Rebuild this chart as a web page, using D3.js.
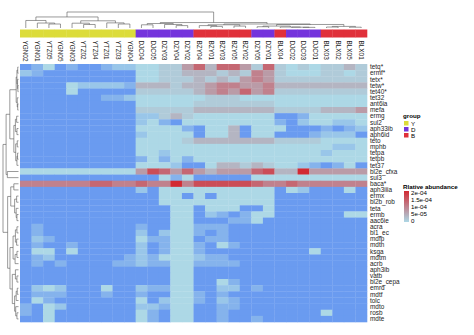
<!DOCTYPE html>
<html><head><meta charset="utf-8">
<script src="https://cdn.jsdelivr.net/npm/d3@7"></script>
<style>body{margin:0;background:#fff}svg{display:block}text{font-family:"Liberation Sans",Arial,sans-serif}</style>
</head><body><svg id="c" width="474" height="335"></svg>
<script>
const samples = ["YGN02","YGN01","YTZ05","YGN05","YGN03","YTZ02","YTZ04","YTZ01","YTZ03","YGN04",
  "DJC04","DJC05","DZY03","DZY04","DZY02","BZY04","BZY01","BZY03","BZY05","BZY02",
  "DZY05","DZY01","BLX04","DJC02","DJC03","DJC01","BLX03","BLX02","BLX05","BLX01"];
const sampleGroups = ["Y","Y","Y","Y","Y","Y","Y","Y","Y","Y","D","D","D","D","D","B","B","B","B","B",
  "D","D","B","D","D","D","B","B","B","B"];
const groupLevels = ["Y","D","B"];
const groupColors = ["#DCDC3A","#7434DC","#E0303A"];
const genes = ["tetq*","ermf*","tetx*","tetw*","tet40*","tet32","ant6ia","mefa","ermg","sul2","aph33ib","aph6id",
  "teto","mphb","tetpa","tetpb","tet37","bl2e_cfxa","sul3","baca*","aph3iiia","ermx","bl2b_rob","teta","ermb",
  "aac6ie","acra","bl1_ec","mdfp","mdtn","ksga","mdtm","acrb","aph3ib","vatb","bl2e_cepa","emrd","mdtf","tolc",
  "mdto","rosb","mdte"];
// read levels of each cell (one character per sample)
const levelValues = {A:-5e-5, b:-3e-5, c:-1.5e-5, "0":0, "1":1.5e-5, "2":4e-5, "3":7e-5, "4":1e-4, "5":1.3e-4, "6":1.6e-4, "7":2e-4};
const abundanceRows = [
  "Ab0AbAAbcc"+"00113"+"52553"+"15"+"1"+"010"+"1121",
  "cbAAAAAAAA"+"00112"+"22121"+"43"+"1"+"000"+"1101",
  "AAAAAAAAAA"+"00111"+"21213"+"43"+"1"+"111"+"1111",
  "AAAA0ccccb"+"22212"+"23443"+"34"+"2"+"222"+"2222",
  "AAAA0AAAAA"+"11111"+"23435"+"34"+"1"+"111"+"1111",
  "AAAAAAAbbc"+"00000"+"01110"+"00"+"0"+"000"+"0000",
  "AAAAAAAAAA"+"00000"+"11111"+"11"+"0"+"000"+"0000",
  "AAAAAAAAAA"+"11111"+"22222"+"22"+"1"+"111"+"2223",
  "AAAAAAAAAA"+"cc121"+"00000"+"00"+"A"+"Ab0"+"0000",
  "AAAAAAAAAA"+"c0bA0"+"00000"+"00"+"b"+"Ac0"+"0cc0",
  "AAAAAAAAAA"+"0000b"+"A002A"+"00"+"0"+"AAA"+"bAbc",
  "AAAAAAAAAA"+"c0000"+"A002A"+"00"+"A"+"AAb"+"cccA",
  "AAAAAAAAAA"+"00001"+"22222"+"22"+"1"+"111"+"0000",
  "AAAAAAAAAA"+"00000"+"00000"+"00"+"0"+"000"+"0cc0",
  "AAAAAAAAAA"+"00c00"+"00000"+"00"+"0"+"000"+"c000",
  "AAAAAAAAAA"+"b0b0b"+"00000"+"00"+"0"+"000"+"0000",
  "AAAAAAAAAA"+"000cA"+"A0221"+"21"+"0"+"0cb"+"Ab0A",
  "0000000000"+"36535"+"32333"+"56"+"2"+"273"+"3333",
  "AAAAAAAAAA"+"AA0b0"+"AAAAA"+"00"+"0"+"000"+"0000",
  "4444445544"+"54474"+"66666"+"54"+"4"+"544"+"4444",
  "AAAAAAAAAA"+"cA000"+"00000"+"00"+"A"+"0cA"+"AA0A",
  "AAAAAAAAAA"+"AA00A"+"0A000"+"00"+"A"+"AAA"+"AAAA",
  "AAAAAAAAAA"+"AA000"+"00000"+"00"+"A"+"AAA"+"AAAA",
  "AAAAAAAAAA"+"AAA00"+"A000A"+"A0"+"A"+"AAA"+"AAAA",
  "AAAAAAAAAA"+"AAA00"+"AcbAb"+"00"+"A"+"AAA"+"AA00",
  "AAAAAAAAAA"+"AAA00"+"AAAbb"+"0A"+"A"+"AAA"+"AAAA",
  "AbAAAAAAAA"+"bAA00"+"bbbAA"+"AA"+"A"+"AAA"+"AAAA",
  "AbAAAAAAAA"+"cAc00"+"bAbAA"+"AA"+"A"+"AAA"+"AAAA",
  "AcbAAAAAAA"+"0bb00"+"AbbAA"+"AA"+"A"+"AAA"+"AAAA",
  "AbAAbAAAAA"+"cAb00"+"bA0bA"+"AA"+"A"+"AAA"+"AAAA",
  "A00A0AAAAA"+"cAb00"+"bAAAA"+"AA"+"A"+"AA0"+"AAAA",
  "AbcAAAAAAb"+"cb000"+"cbbAA"+"AA"+"A"+"AAA"+"AAAA",
  "AbAbAAAAbb"+"cbb00"+"bbbbA"+"AA"+"A"+"AAA"+"AAAA",
  "AAAAAAAAAA"+"AAA00"+"AAAAA"+"AA"+"A"+"AAA"+"AAAA",
  "AAAAAAAAAA"+"AAA00"+"AAAAA"+"AA"+"A"+"AAA"+"AAAA",
  "AAAAAAAAAA"+"AAA00"+"AA0bA"+"AA"+"A"+"AAA"+"AAAA",
  "Ac0cAAA0AA"+"cbb00"+"AAccA"+"bA"+"A"+"AAA"+"AAAA",
  "AbbbAAAbAA"+"bAA00"+"bAbAA"+"AA"+"A"+"AAA"+"AAAA",
  "A0bAAAAAAA"+"0Ac00"+"bAcbA"+"AA"+"A"+"AAA"+"AAAA",
  "bA0cAAAAAA"+"ccb00"+"AAbbA"+"AA"+"A"+"AAA"+"AAAA",
  "bA0AAAAAAA"+"0bA00"+"AAbAA"+"AA"+"A"+"AAA"+"0AAA",
  "AA0AAAAAAA"+"0bA00"+"AAbAA"+"bA"+"A"+"AAA"+"AAAA"
];
const legendTicks = [2e-4, 1.5e-4, 1e-4, 5e-5, 0];
const legendTickLabels = ["2e-04","1.5e-04","1e-04","5e-05","0"];
// dendrograms: [height, left, right], leaves = index
const colTree = [1.0,
  [0.69, [0.47, 0, [0.31, 1, [0.25, 2, 3]]], [0.45, [0.3, 4, [0.22, 5, 6]], [0.32, 7, [0.25, 8, 9]]]],
  [0.34, [0.28, [0.2, 10, 11], [0.22, 12, [0.15, 13, 14]]],
    [0.25, [0.2, [0.15, 15, [0.1, 16, 17]], [0.12, 18, 19]],
      [0.22, [0.12, [0.08, 20, 21], [0.06, 22, [0.05, 23, [0.04, 24, 25]]]], [0.1, [0.06, 26, 27], [0.05, 28, 29]]]]]];
const rowTree = [1.0,
  [0.8, [0.56, [0.15, [0.1, [0.05, 0, 1], [0.06, 2, [0.04, 3, 4]]], [0.08, 5, [0.05, 6, 7]]],
             [0.3, [0.2, [0.12, 8, 9], [0.1, 10, 11]], [0.18, [0.08, 12, 13], [0.1, [0.06, 14, 15], 16]]]],
        [0.72, 17, 18]],
  [0.7, [0.5, [0.3, 19, 20], [0.25, [0.12, 21, 22], [0.15, 23, [0.1, 24, 25]]]],
        [0.55, [0.35, [0.2, [0.1, 26, 27], [0.12, 28, 29]], [0.22, [0.1, 30, 31], 32]],
               [0.4, [0.2, 33, [0.1, 34, 35]], [0.25, [0.15, [0.08, 36, 37], 38], [0.18, 39, [0.1, 40, 41]]]]]]];

const svg = d3.select("#c");
const x = d3.scaleBand().domain(d3.range(samples.length)).range([20, 367]);
const y = d3.scaleBand().domain(d3.range(genes.length)).range([64, 322]);
const color = d3.scaleLinear().domain([-5e-5, 0, 2e-4]).range(["#6A9BF0", "#ADD8E6", "#D22A33"]).clamp(true);
const gcol = d3.scaleOrdinal().domain(groupLevels).range(groupColors);

const cells = [];
abundanceRows.forEach((row, r) => { for (let c = 0; c < samples.length; c++) cells.push({r, c, v: levelValues[row[c]]}); });
svg.append("g").selectAll("rect").data(cells).join("rect")
  .attr("x", d => x(d.c)).attr("y", d => y(d.r))
  .attr("width", x.bandwidth() + 0.3).attr("height", y.bandwidth() + 0.3)
  .attr("fill", d => color(d.v));

// group bar
svg.append("g").selectAll("rect").data(sampleGroups).join("rect")
  .attr("x", (d, i) => x(i)).attr("y", 29.5).attr("width", x.bandwidth() + 0.3).attr("height", 8)
  .attr("fill", d => gcol(d));

// column labels
svg.append("g").selectAll("text").data(samples).join("text")
  .attr("transform", (d, i) => `translate(${x(i) + x.bandwidth() / 2 - 2.3},40.5) rotate(90)`)
  .attr("font-size", 6.4).attr("fill", "#222").text(d => d);

// row labels
svg.append("g").selectAll("text").data(genes).join("text")
  .attr("x", 370).attr("y", (d, i) => y(i) + y.bandwidth() / 2 + 2.2)
  .attr("font-size", 6.4).attr("fill", "#222").text(d => d);

// dendrograms
function dendro(tree, pos, hpos, horizontal) {
  const segs = [];
  function walk(n) {
    if (typeof n === "number") return {p: pos(n), h: 0};
    const [h, l, r] = n;
    const L = walk(l), R = walk(r);
    segs.push([L.p, hpos(h), R.p, hpos(h)]);
    segs.push([L.p, hpos(h), L.p, hpos(L.h)]);
    segs.push([R.p, hpos(h), R.p, hpos(R.h)]);
    return {p: (L.p + R.p) / 2, h};
  }
  walk(tree);
  const g = svg.append("g").attr("stroke", "#555").attr("stroke-width", 0.6).attr("fill", "none");
  g.selectAll("line").data(segs).join("line")
    .attr("x1", d => horizontal ? d[1] : d[0]).attr("y1", d => horizontal ? d[0] : d[1])
    .attr("x2", d => horizontal ? d[3] : d[2]).attr("y2", d => horizontal ? d[2] : d[3]);
}
dendro(colTree, i => x(i) + x.bandwidth() / 2, d3.scaleLinear().domain([0, 1]).range([28, 12]), false);
dendro(rowTree, i => y(i) + y.bandwidth() / 2, d3.scaleLinear().domain([0, 1]).range([18.5, 3]), true);

// group legend
const lg = svg.append("g");
lg.append("text").attr("x", 403).attr("y", 118).attr("font-size", 6.2).attr("font-weight", "bold").text("group");
groupLevels.forEach((g, i) => {
  lg.append("rect").attr("x", 404).attr("y", 121 + i * 6).attr("width", 4.5).attr("height", 4.5).attr("fill", gcol(g));
  lg.append("text").attr("x", 411).attr("y", 125.5 + i * 6).attr("font-size", 6.2).text(g);
});

// color legend
const ly = d3.scaleLinear().domain([0, 2e-4]).range([220.5, 193]);
const defs = svg.append("defs");
const grad = defs.append("linearGradient").attr("id", "lgd").attr("x1", 0).attr("y1", 1).attr("x2", 0).attr("y2", 0);
d3.range(0, 1.0001, 0.1).forEach(t => grad.append("stop").attr("offset", t).attr("stop-color", color(t * 2e-4)));
lg.append("text").attr("x", 403).attr("y", 188.5).attr("font-size", 6.2).attr("font-weight", "bold").text("Rlative abundance");
lg.append("rect").attr("x", 404).attr("y", 191).attr("width", 5).attr("height", 31).attr("fill", "url(#lgd)");
legendTicks.forEach((v, i) => {
  lg.append("text").attr("x", 411).attr("y", ly(v) + 2).attr("font-size", 6.2).text(legendTickLabels[i]);
});
</script></body></html>
